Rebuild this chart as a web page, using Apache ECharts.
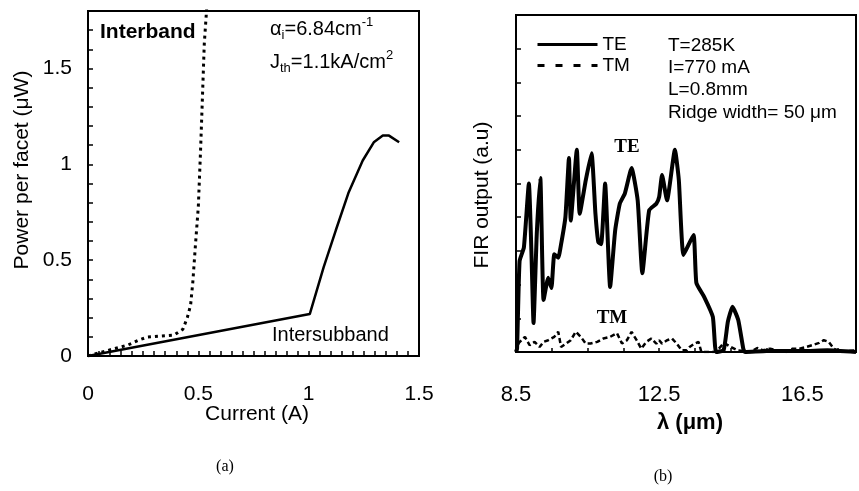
<!DOCTYPE html>
<html>
<head>
<meta charset="utf-8">
<script src="https://cdn.jsdelivr.net/npm/echarts@6/dist/echarts.min.js"></script>
<style>
html, body { margin: 0; background: #fff; }
#main { width: 859px; height: 491px; }
</style>
</head>
<body>
<div id="main"></div>
<script>
// (a) power vs current
var interCurrent = [0, 1.005, 1.068, 1.123, 1.18, 1.245, 1.295, 1.336, 1.364, 1.41];
var interPower = [0, 0.219, 0.464, 0.656, 0.85, 1.02, 1.115, 1.15, 1.15, 1.115];
var bandCurrent = [0, 0.045, 0.18, 0.23, 0.27, 0.33, 0.39, 0.43, 0.45, 0.465, 0.475, 0.487, 0.5, 0.51, 0.518, 0.527, 0.54];
var bandPower = [0, 0.015, 0.057, 0.083, 0.099, 0.104, 0.109, 0.14, 0.2, 0.266, 0.385, 0.58, 0.78, 1.07, 1.33, 1.63, 1.85];

// (b) FIR spectra
var teLambda = [8.5, 8.53, 8.6, 8.72, 8.86, 8.93, 8.99, 9.08, 9.18, 9.27, 9.4, 9.49, 9.57, 9.68, 9.76, 9.88, 9.98, 10.03, 10.2, 10.28, 10.45, 10.61, 10.72, 10.8, 10.88, 10.99, 11.13, 11.27, 11.4, 11.54, 11.73, 11.9, 12.03, 12.22, 12.42, 12.5, 12.58, 12.72, 12.94, 13.05, 13.18, 13.46, 13.54, 13.76, 14.0, 14.09, 14.3, 14.42, 14.55, 14.71, 14.85, 14.9, 15.5, 16.5, 17.2, 18];
var teOut = [0, 0.1, 2.7, 3.1, 5.0, 3.0, 0.86, 3.5, 5.16, 1.54, 2.2, 1.9, 2.9, 2.8, 3.2, 4.0, 5.76, 3.9, 6.0, 4.1, 5.1, 5.9, 4.1, 3.26, 3.2, 5.0, 1.93, 3.6, 4.4, 4.7, 5.46, 4.5, 2.34, 4.2, 4.4, 4.6, 5.25, 4.5, 6.0, 5.1, 2.88, 3.47, 2.05, 1.63, 1.04, 0, 0.05, 0.9, 1.34, 0.95, 0.1, 0, 0.03, 0.03, 0.05, 0];
var tmLambda = [8.5, 8.58, 8.75, 8.88, 9.02, 9.16, 9.27, 9.4, 9.57, 9.68, 9.76, 9.9, 10.03, 10.17, 10.31, 10.45, 10.58, 10.77, 10.94, 11.13, 11.32, 11.46, 11.6, 11.73, 11.87, 12.0, 12.14, 12.28, 12.42, 12.5, 12.58, 12.72, 12.86, 12.99, 13.13, 13.27, 13.35, 13.49, 13.6, 13.68, 14.03, 14.17, 14.31, 14.5, 14.69, 15.05, 15.24, 15.4, 15.6, 15.79, 16.06, 16.23, 16.42, 16.61, 16.77, 16.97, 17.1, 17.24, 17.38, 17.57, 18];
var tmOut = [0, 0.27, 0.45, 0.2, 0.3, 0.15, 0.3, 0.35, 0.45, 0.6, 0.15, 0.25, 0.35, 0.6, 0.45, 0.25, 0.25, 0.3, 0.4, 0.45, 0.56, 0.25, 0.35, 0.6, 0.35, 0.1, 0.3, 0.4, 0.25, 0.35, 0.25, 0.35, 0.4, 0.25, 0.05, 0.05, 0.15, 0.25, 0.3, 0, 0, 0.1, 0.27, 0.15, 0.05, 0, 0.12, 0.05, 0.1, 0.05, 0, 0.1, 0.1, 0.15, 0.2, 0.27, 0.35, 0.3, 0.1, 0, 0.05];
var lambdaTicks = [8.5, 12.5, 16.5];

var sans = "'Liberation Sans', Arial, sans-serif";
var serif = "'Liberation Serif', 'DejaVu Serif', serif";

function pairs(xs, ys) {
    return xs.map(function (x, i) { return [x, ys[i]]; });
}

function txt(x, y, s, size, opt) {
    opt = opt || {};
    return {
        type: 'text', x: x, y: y, rotation: opt.rot || 0, silent: true,
        style: {
            text: s, fill: '#000',
            font: (opt.bold ? 'bold ' : '') + size + 'px ' + (opt.family || sans),
            align: opt.align || 'left', verticalAlign: 'middle'
        }
    };
}

function richTxt(x, y, s) {
    return {
        type: 'text', x: x, y: y, silent: true,
        style: {
            text: s, fill: '#000', align: 'left', verticalAlign: 'middle',
            rich: {
                m: { fontSize: 20, fontFamily: sans, lineHeight: 26 },
                s: { fontSize: 13, fontFamily: sans, lineHeight: 13, verticalAlign: 'bottom' },
                p: { fontSize: 13, fontFamily: sans, lineHeight: 13, verticalAlign: 'top' }
            }
        }
    };
}

var chart = echarts.init(document.getElementById('main'));

chart.setOption({
    animation: false,
    backgroundColor: '#fff',
    grid: [
        { left: 88, top: 11, width: 331, height: 345, show: true, borderColor: '#000', borderWidth: 2 },
        { left: 516, top: 15, right: -4, bottom: 139, show: true, borderColor: '#000', borderWidth: 2 }
    ],
    legend: {
        left: 536, top: 35, orient: 'vertical', itemWidth: 60, itemHeight: 14, itemGap: 2, padding: 0,
        itemStyle: { opacity: 0 },
        lineStyle: { width: 3 },
        textStyle: { fontSize: 19, fontFamily: sans, color: '#000' },
        data: [{ name: 'TE' }, { name: 'TM', lineStyle: { type: [7, 11] } }]
    },
    xAxis: [
        {
            gridIndex: 0, type: 'value', min: 0, max: 1.5, interval: 0.05,
            axisLine: { lineStyle: { color: '#000', width: 2 } },
            axisTick: { inside: true, length: 5, lineStyle: { color: '#000', width: 1.5 } },
            splitLine: { show: false },
            axisLabel: {
                margin: 28, fontSize: 21, fontFamily: sans, color: '#000',
                formatter: function (v) { var r = Math.round(v * 20); return r % 10 === 0 ? String(r / 20) : ''; }
            }
        },
        {
            gridIndex: 1, type: 'value', min: 8.5, max: 18, interval: 1,
            axisLine: { lineStyle: { color: '#000', width: 2 } },
            axisTick: { inside: true, length: 4, lineStyle: { color: '#000', width: 1.5 } },
            splitLine: { show: false },
            axisLabel: {
                margin: 32, fontSize: 22, fontFamily: sans, color: '#000',
                formatter: function (v) {
                    return lambdaTicks.some(function (t) { return Math.abs(t - v) < 1e-6; }) ? v.toFixed(1) : '';
                }
            }
        }
    ],
    yAxis: [
        {
            gridIndex: 0, type: 'value', min: 0, max: 1.8, interval: 0.1,
            axisLine: { lineStyle: { color: '#000', width: 2 } },
            axisTick: { inside: true, length: 5, lineStyle: { color: '#000', width: 1.5 } },
            splitLine: { show: false },
            axisLabel: {
                margin: 16, fontSize: 21, fontFamily: sans, color: '#000',
                formatter: function (v) { var r = Math.round(v * 10); return r % 5 === 0 ? String(r / 10) : ''; }
            }
        },
        {
            gridIndex: 1, type: 'value', min: 0, max: 10, interval: 1,
            axisLine: { lineStyle: { color: '#000', width: 2 } },
            axisTick: { inside: true, length: 5, lineStyle: { color: '#000', width: 1.5 } },
            splitLine: { show: false },
            axisLabel: { show: false }
        }
    ],
    series: [
        {
            name: 'Intersubband', type: 'line', xAxisIndex: 0, yAxisIndex: 0, symbol: 'none',
            data: pairs(interCurrent, interPower),
            lineStyle: { color: '#000', width: 2.5 }
        },
        {
            name: 'Interband', type: 'line', xAxisIndex: 0, yAxisIndex: 0, symbol: 'none',
            data: pairs(bandCurrent, bandPower),
            lineStyle: { color: '#000', width: 3, type: [3, 4] }
        },
        {
            name: 'TE', type: 'line', xAxisIndex: 1, yAxisIndex: 1, symbol: 'none',
            smooth: 0.15, data: pairs(teLambda, teOut),
            lineStyle: { color: '#000', width: 4 }, itemStyle: { color: '#000' }
        },
        {
            name: 'TM', type: 'line', xAxisIndex: 1, yAxisIndex: 1, symbol: 'none',
            data: pairs(tmLambda, tmOut),
            lineStyle: { color: '#000', width: 2.5, type: [5, 3] }, itemStyle: { color: '#000' }
        }
    ],
    graphic: [
        txt(22, 170, 'Power per facet (μW)', 21, { rot: Math.PI / 2, align: 'center' }),
        txt(257, 414, 'Current (A)', 21, { align: 'center' }),
        txt(100, 32, 'Interband', 21, { bold: true }),
        richTxt(270, 29, '{m|α}{s|i}{m|=6.84cm}{p|-1}'),
        richTxt(270, 62, '{m|J}{s|th}{m|=1.1kA/cm}{p|2}'),
        txt(272, 335, 'Intersubband', 20),
        txt(225, 467, '(a)', 16, { family: serif, align: 'center' }),

        txt(482, 195, 'FIR output (a.u)', 21, { rot: Math.PI / 2, align: 'center' }),
        txt(690, 423, 'λ (μm)', 22, { bold: true, align: 'center' }),
        txt(663, 477, '(b)', 16, { family: serif, align: 'center' }),
        txt(627, 147, 'TE', 19, { bold: true, family: serif, align: 'center' }),
        txt(612, 318, 'TM', 19, { bold: true, family: serif, align: 'center' }),
        txt(668, 46, 'T=285K', 19),
        txt(668, 68, 'I=770 mA', 19),
        txt(668, 90, 'L=0.8mm', 19),
        txt(668, 113, 'Ridge width= 50 μm', 19)
    ]
});
</script>
</body>
</html>
